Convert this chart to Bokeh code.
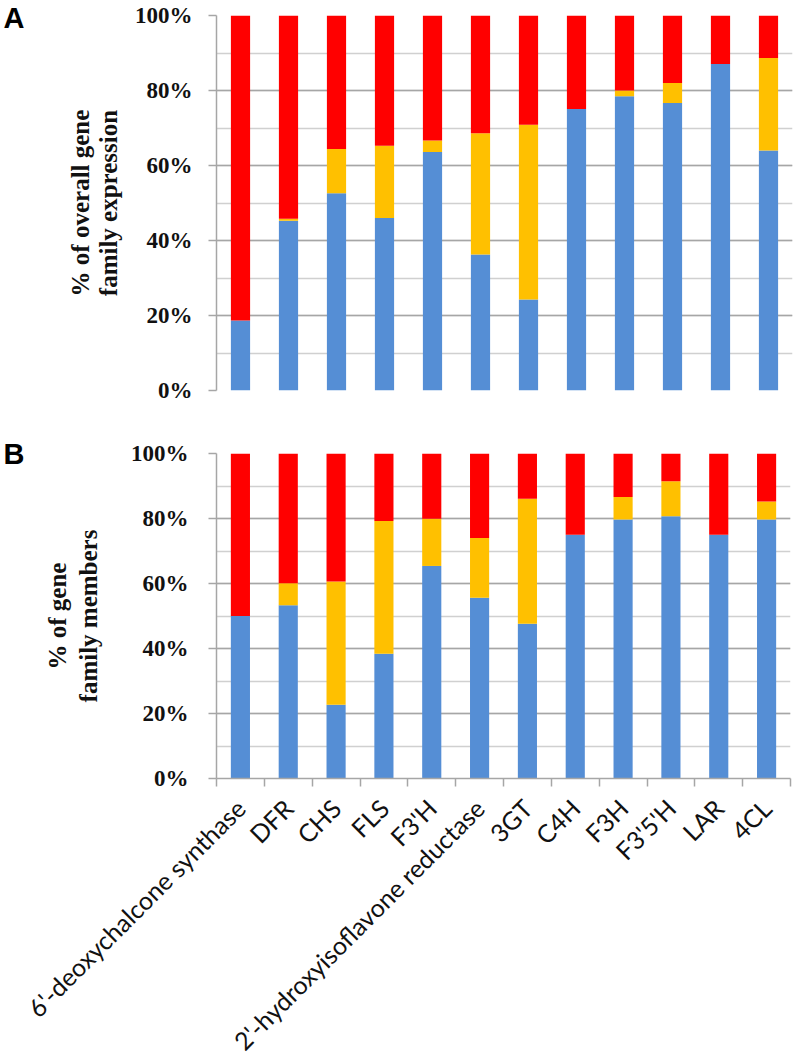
import math
from bokeh.plotting import figure
from bokeh.models import (Range1d, LinearAxis, FixedTicker, SingleIntervalTicker,
                          PrintfTickFormatter, ColumnDataSource)
from bokeh.layouts import column
from bokeh.embed import file_html
from bokeh.resources import INLINE

# ---------------- data ----------------
categories = ["6'-deoxychalcone synthase", "DFR", "CHS", "FLS", "F3'H",
              "2'-hydroxyisoflavone reductase", "3GT", "C4H", "F3H", "F3'5'H", "LAR", "4CL"]

# Panel A: % of overall gene family expression
expr_blue = [18.7, 45.3, 52.6, 46.0, 63.6, 36.3, 24.3, 75.1, 78.5, 76.7, 87.1, 64.0]
expr_orange = [0.0, 0.5, 11.8, 19.3, 3.1, 32.3, 46.6, 0.0, 1.5, 5.3, 0.0, 24.7]
expr_red = [81.3, 54.2, 35.6, 34.7, 33.3, 31.4, 29.1, 24.9, 20.0, 18.0, 12.9, 11.3]

# Panel B: % of gene family members
memb_blue = [50.0, 53.3, 22.7, 38.4, 65.4, 55.6, 47.6, 75.0, 79.7, 80.7, 75.0, 79.7]
memb_orange = [0.0, 6.8, 37.9, 40.8, 14.5, 18.4, 38.5, 0.0, 6.9, 10.8, 0.0, 5.5]
memb_red = [50.0, 39.9, 39.4, 20.8, 20.1, 26.0, 13.9, 25.0, 13.4, 8.5, 25.0, 14.8]

y_ticks_interval = 20

# ---------------- style ----------------
COLORS = ["#558ED5", "#FFC000", "#FF0000"]
GRID_MAJOR = "#a6a6a6"
GRID_MINOR = "#d0d0d0"
SERIF = "Liberation Serif"
TICK_FONT_SIZE = "23px"
TITLE_FONT_SIZE = "25px"

n = len(categories)
centers = [i + 0.5 for i in range(n)]      # category slot centres on a 0..n axis
bounds = list(range(n + 1))                # category slot boundaries


def make_panel(blue, orange, red, frame_w, frame_h, left, right, top, bottom,
               title, label_standoff, title_standoff, line_height):
    src = ColumnDataSource(dict(x=centers, blue=blue, orange=orange, red=red))
    p = figure(x_range=Range1d(0, n), y_range=Range1d(0, 100),
               frame_width=frame_w, frame_height=frame_h,
               min_border_left=left, min_border_right=right,
               min_border_top=top, min_border_bottom=bottom,
               x_axis_location=None, output_backend="svg", toolbar_location=None)
    p.vbar_stack(["blue", "orange", "red"], x="x", width=0.4, color=COLORS,
                 line_color=None, source=src)
    p.outline_line_color = None
    p.background_fill_color = "white"
    p.border_fill_color = "white"
    p.xgrid.grid_line_color = None
    yax = p.yaxis[0]
    yax.ticker = SingleIntervalTicker(interval=y_ticks_interval, num_minor_ticks=2)
    yax.formatter = PrintfTickFormatter(format="%d%%")
    yax.axis_line_color = GRID_MAJOR
    yax.axis_line_width = 1.5
    yax.major_tick_line_color = GRID_MAJOR
    yax.major_tick_line_width = 1.5
    yax.major_tick_out = 8
    yax.major_tick_in = 0
    yax.minor_tick_line_color = None
    yax.major_label_text_font = SERIF
    yax.major_label_text_font_style = "bold"
    yax.major_label_text_font_size = TICK_FONT_SIZE
    yax.major_label_text_color = "#111111"
    yax.major_label_standoff = label_standoff
    yax.axis_label = title
    yax.axis_label_text_font = SERIF
    yax.axis_label_text_font_style = "bold"
    yax.axis_label_text_font_size = TITLE_FONT_SIZE
    yax.axis_label_text_color = "#111111"
    yax.axis_label_text_line_height = line_height
    yax.axis_label_standoff = title_standoff
    p.ygrid.ticker = yax.ticker
    p.ygrid.grid_line_color = GRID_MAJOR
    p.ygrid.grid_line_width = 1.5
    p.ygrid.minor_grid_line_color = GRID_MINOR
    p.ygrid.minor_grid_line_width = 1.5
    return p


def add_panel_letter(p, text, standoff):
    # an outer left axis whose single (top) tick label carries the panel letter
    ax = LinearAxis(ticker=FixedTicker(ticks=[100]))
    ax.major_label_overrides = {100: text}
    ax.axis_line_color = None
    ax.major_tick_line_color = None
    ax.minor_tick_line_color = None
    ax.major_tick_out = 0
    ax.major_tick_in = 0
    ax.major_label_text_font = "Liberation Sans"
    ax.major_label_text_font_style = "bold"
    ax.major_label_text_font_size = "29px"
    ax.major_label_text_color = "black"
    ax.major_label_standoff = standoff
    p.add_layout(ax, "left")


# ---------------- panel A ----------------
pA = make_panel(expr_blue, expr_orange, expr_red, 576, 375, 216, 4, 15, 18,
                "% of overall gene\nfamily expression", 16, 10, 1.05)
add_panel_letter(pA, "A", 39)

# ---------------- panel B ----------------
pB = make_panel(memb_blue, memb_orange, memb_red, 574, 325, 213, 9, 45, 281,
                "% of gene\nfamily members", 20, 26, 1.15)

cat_axis = LinearAxis(ticker=FixedTicker(ticks=centers, minor_ticks=bounds))
cat_axis.major_label_overrides = {c: name for c, name in zip(centers, categories)}
cat_axis.axis_line_color = GRID_MAJOR
cat_axis.axis_line_width = 1.5
cat_axis.major_tick_line_color = None
cat_axis.major_tick_out = 8
cat_axis.major_tick_in = 0
cat_axis.minor_tick_line_color = GRID_MAJOR
cat_axis.minor_tick_line_width = 1.5
cat_axis.minor_tick_out = 8
cat_axis.minor_tick_in = 0
cat_axis.major_label_orientation = math.pi / 4
cat_axis.major_label_text_font = "Lato"
cat_axis.major_label_text_font_size = "25px"
cat_axis.major_label_text_color = "#111111"
cat_axis.major_label_standoff = 17
pB.add_layout(cat_axis, "below")

add_panel_letter(pB, "B", 16)

layout = column(pA, pB, spacing=0)
open("out.html", "w").write(file_html(layout, INLINE))
